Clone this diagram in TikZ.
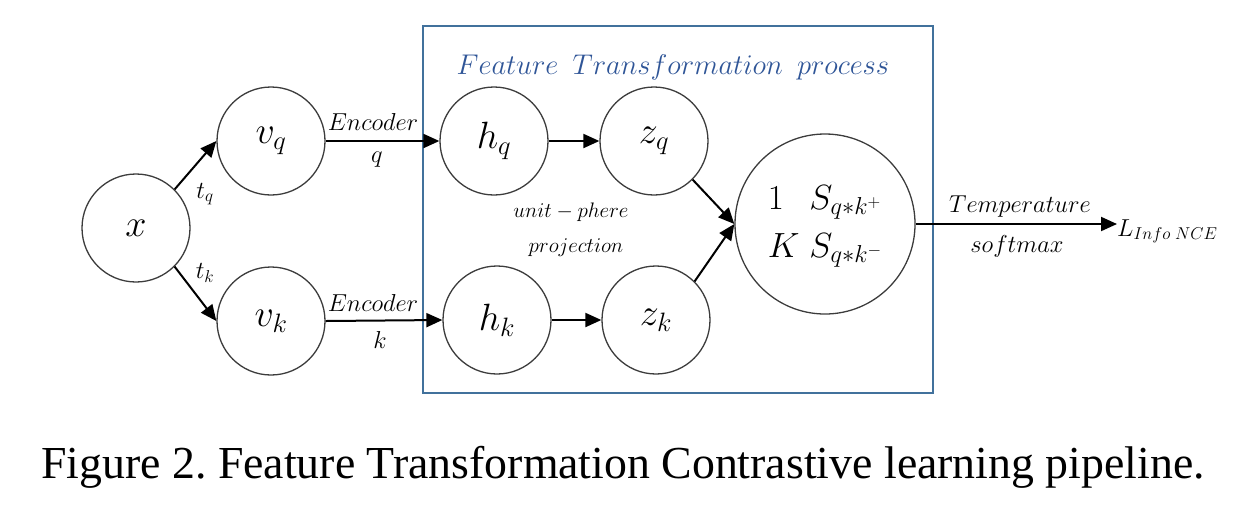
\RequirePackage{fix-cm}
\documentclass[tikz,border=0pt]{standalone}
\usepackage{fontspec}
\newfontfamily\capfont{Liberation Serif}
\usetikzlibrary{arrows.meta}
\definecolor{boxblue}{RGB}{65,113,156}
\definecolor{titleblue}{RGB}{47,85,151}
\definecolor{ringgray}{RGB}{60,60,60}
\frenchspacing
\begin{document}
\begin{tikzpicture}[x=1pt,y=-1pt,
  circ/.style={circle,draw=ringgray,line width=1.3pt,minimum size=108pt,inner sep=0pt,font=\fontsize{38}{40}\selectfont},
  arr/.style={-{Triangle[length=16pt,width=14pt]},line width=2pt},
  lab/.style={font=\fontsize{24.5}{28}\selectfont,inner sep=0pt},
  frame/.style={draw=boxblue,line width=1.3pt,inner sep=0pt}]
\useasboundingbox (0,0) rectangle (1246,507);
\node[frame,minimum width=510pt,minimum height=367pt] (fr) at (678,209.5) {};
\node[font=\fontsize{28.5}{32}\selectfont,text=titleblue,inner sep=0pt] (title) at (673,67) {$Feature\hspace{.5em}Transformation\hspace{.5em}process$};
\node[circ] (x) at (136,228) {$x$};
\node[circ] (vq) at (271,141) {$v_q$};
\node[circ] (vk) at (271,321) {$v_k$};
\node[circ] (hq) at (494,141) {$h_q$};
\node[circ] (zq) at (654,141) {$z_q$};
\node[circ] (hk) at (497,320) {$h_k$};
\node[circ] (zk) at (656,320) {$z_k$};
\node[circ,minimum size=180pt] (s) at (825,224) {\fontsize{35}{48}\selectfont\begin{tabular}{@{}l@{\hspace{10pt}}l@{}}$1$ & $S_{q*k^+}$\\ $K$ & $S_{q*k^-}$\end{tabular}};
\node[lab,anchor=base west] (L) at (1117,236) {$L_{Info\;NCE}$};
\draw[arr] (x.45) -- (vq.west);
\draw[arr] (x.-45) -- (vk.west);
\draw[arr] (vq.east) -- (hq.west);
\draw[arr] (vk.east) -- (hk.west);
\draw[arr] (hq.east) -- (zq.west);
\draw[arr] (hk.east) -- (zk.west);
\draw[arr] (zq.-45) -- (s.west);
\draw[arr] (zk.45) -- (s.west);
\draw[arr] (s.east) -- (s.east -| L.west);
\node[lab] (tq) at (205,194) {$t_q$};
\node[lab] (tk) at (205,273) {$t_k$};
\node[lab] (e1) at (373,122) {$Encoder$};
\node[lab] (q1) at (377,160) {$q$};
\node[lab] (e2) at (373,303) {$Encoder$};
\node[lab] (k1) at (380,340) {$k$};
\node[font=\fontsize{21}{24}\selectfont,inner sep=0pt] (u1) at (571,212) {$unit-phere$};
\node[font=\fontsize{21}{24}\selectfont,inner sep=0pt] (u2) at (576,248) {$projection$};
\node[lab] (temp) at (1020,207) {$Temperature$};
\node[lab] (soft) at (1017,246) {$softmax$};
\node[font=\capfont\fontsize{45.8}{50}\selectfont,inner sep=0pt,anchor=base] (cap) at (623,478) {Figure 2. Feature Transformation Contrastive learning pipeline.};
\end{tikzpicture}
\end{document}
